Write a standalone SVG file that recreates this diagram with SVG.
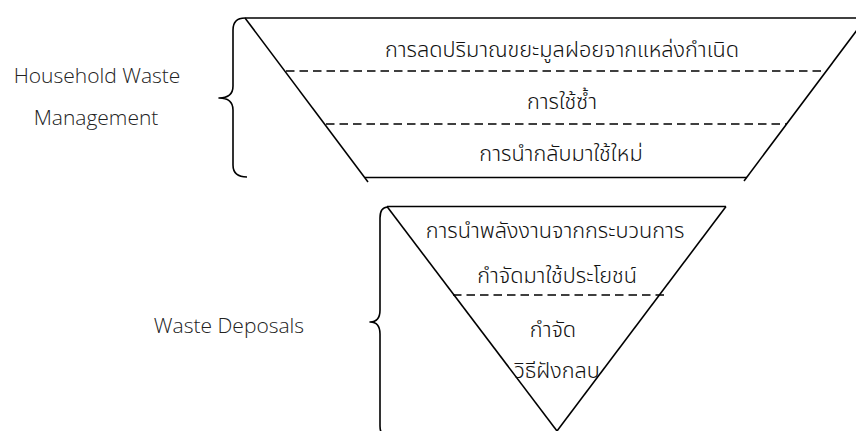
<svg xmlns="http://www.w3.org/2000/svg" width="856" height="431" viewBox="0 0 856 431">
<style>
.ln{stroke:#000;stroke-width:1.6;fill:none}
.ds{stroke:#000;stroke-width:1.6;fill:none;stroke-dasharray:8.5 5}
.br{stroke:#000;stroke-width:1.6;fill:none;stroke-linejoin:round}
.en{font-family:"Open Sans","Liberation Sans",sans-serif;font-weight:300;font-size:21px;fill:#222;text-anchor:middle}
.th{font-family:"Noto Sans Thai","Noto Sans","DejaVu Sans",sans-serif;font-weight:300;font-size:21.7px;fill:#111;text-anchor:middle}
</style>
<rect width="856" height="431" fill="#fff"/>
<g id="household-label">
<text class="en" x="97" y="83">Household Waste</text>
<text class="en" x="96" y="125">Management</text>
</g>
<g id="disposal-label">
<text class="en" x="229" y="333">Waste Deposals</text>
</g>
<g id="connectors">
<path class="br" d="M245,18 Q233,18 233,30 L233,86 Q233,98 219,98 Q233,98 233,110 L233,165 Q233,177 247,177"/>
<path class="br" d="M388,207 Q380,207 380,218 L380,310 Q380,322 370,322 Q380,322 380,334 L380,426 Q380,437 390,437"/>
</g>
<g id="household-funnel">
<line class="ln" x1="245" y1="18" x2="856" y2="18"/>
<line class="ln" x1="245" y1="18" x2="368" y2="182"/>
<line class="ln" x1="866" y1="18" x2="744" y2="181"/>
<line class="ln" x1="365" y1="177.5" x2="747" y2="177.5"/>
<line class="ds" x1="286" y1="71" x2="826" y2="71"/>
<line class="ds" x1="326" y1="124" x2="787" y2="124"/>
</g>
<g id="reduce">
<text class="th" x="562" y="57">การลดปริมาณขยะมูลฝอยจากแหล่งกำเนิด</text>
</g>
<g id="reuse">
<text class="th" x="562" y="109">การใช้ซ้ำ</text>
</g>
<g id="recycle">
<text class="th" x="561" y="161">การนำกลับมาใช้ใหม่</text>
</g>
<g id="disposal-funnel">
<line class="ln" x1="387" y1="206.5" x2="726" y2="206.5"/>
<line class="ln" x1="387" y1="206.5" x2="557" y2="431"/>
<line class="ln" x1="726" y1="206.5" x2="557" y2="431"/>
<line class="ds" x1="453" y1="295" x2="665" y2="295"/>
</g>
<g id="energy-recovery">
<text class="th" x="555" y="238">การนำพลังงานจากกระบวนการ</text>
<text class="th" x="557" y="283">กำจัดมาใช้ประโยชน์</text>
</g>
<g id="landfill">
<text class="th" x="553" y="337">กำจัด</text>
<text class="th" x="557" y="378">วิธีฝังกลบ</text>
</g>
</svg>
